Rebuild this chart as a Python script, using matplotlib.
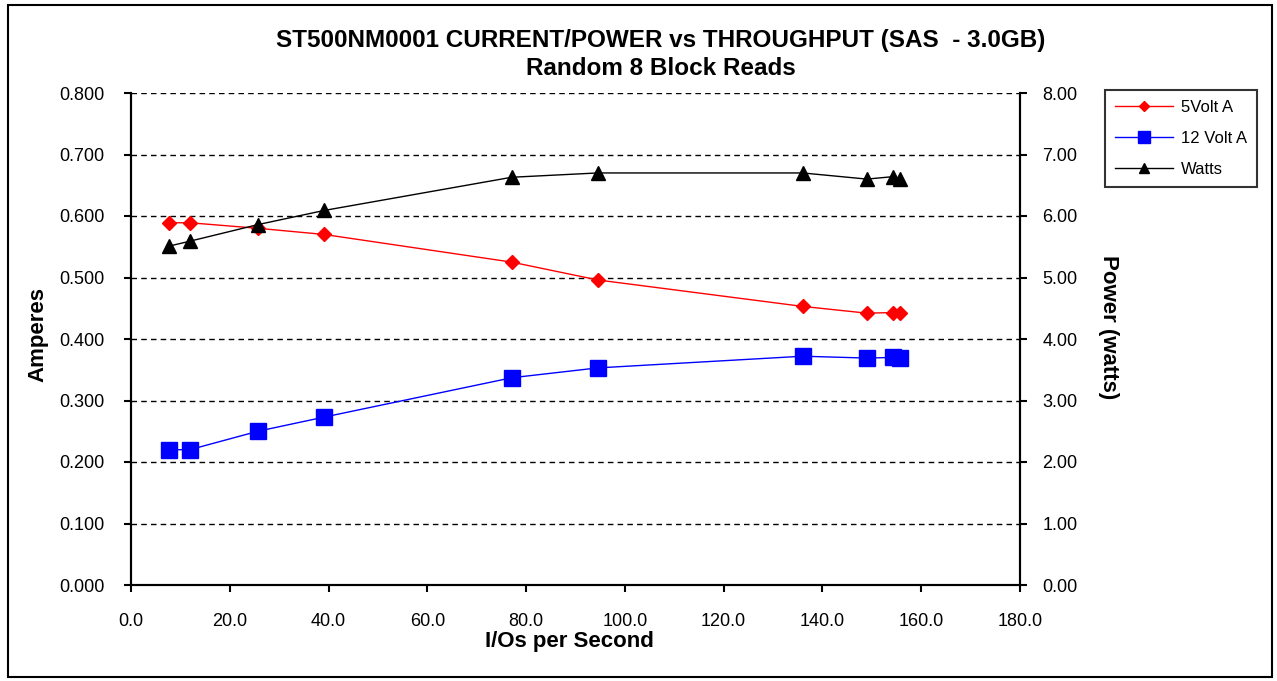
import matplotlib.pyplot as plt
from matplotlib.patches import Rectangle

plt.rcParams['font.family'] = ['Liberation Sans', 'DejaVu Sans']

# I/Os per second
iops = [7.7, 11.9, 25.7, 39.1, 77.1, 94.5, 136.0, 149.0, 154.3, 155.7]
# 5 volt current (A)
amps_5v = [0.589, 0.589, 0.580, 0.570, 0.525, 0.496, 0.453, 0.442, 0.443, 0.442]
# 12 volt current (A)
amps_12v = [0.220, 0.220, 0.250, 0.273, 0.337, 0.353, 0.372, 0.369, 0.370, 0.369]
# power (W)
watts = [5.51, 5.59, 5.86, 6.09, 6.63, 6.70, 6.70, 6.60, 6.64, 6.60]

y_left_ticks = [0.0, 0.1, 0.2, 0.3, 0.4, 0.5, 0.6, 0.7, 0.8]
y_right_ticks = [0, 1, 2, 3, 4, 5, 6, 7, 8]
x_ticks = [0, 20, 40, 60, 80, 100, 120, 140, 160, 180]

fig = plt.figure(figsize=(12.77, 6.81), dpi=100)
fig.patch.set_facecolor('white')

# outer chart frame
fig.patches.append(Rectangle((8 / 1277, 4 / 681), 1264 / 1277, 672 / 681,
                             transform=fig.transFigure, fill=False,
                             edgecolor='black', linewidth=1.5))

ax = fig.add_axes([131 / 1277, 96 / 681, 889 / 1277, 492 / 681])
ax2 = ax.twinx()

l1, = ax.plot(iops, amps_5v, color='red', lw=1, marker='D', ms=7, label='5Volt A')
l2, = ax.plot(iops, amps_12v, color='blue', lw=1, marker='s', ms=11, label='12 Volt A')
l3, = ax2.plot(iops, watts, color='black', lw=1, marker='^', ms=10, label='Watts')

ax.set_xlim(0, 180)
ax.set_ylim(0, 0.8)
ax2.set_ylim(0, 8)
ax.set_xticks(x_ticks)
ax.set_xticklabels([f'{v:.1f}' for v in x_ticks])
ax.set_yticks(y_left_ticks)
ax.set_yticklabels([f'{v:.3f}' for v in y_left_ticks])
ax2.set_yticks(y_right_ticks)
ax2.set_yticklabels([f'{v:.2f}' for v in y_right_ticks])

ax.grid(axis='y', color='black', linestyle=(0, (4, 3)), linewidth=1)
ax.set_axisbelow(True)

for a in (ax, ax2):
    a.spines['top'].set_visible(False)
    for s in ('left', 'right', 'bottom'):
        a.spines[s].set_linewidth(1.5)
    a.tick_params(labelsize=13, length=5, width=1.5, direction='out')

ax.tick_params(axis='y', pad=14)
ax.tick_params(axis='x', pad=15)
ax2.tick_params(axis='y', pad=11)

fig.text(661 / 1277, 1 - 47 / 681, 'ST500NM0001 CURRENT/POWER vs THROUGHPUT (SAS  - 3.0GB)',
         ha='center', va='baseline', fontsize=17.5, fontweight='bold')
fig.text(661 / 1277, 1 - 75 / 681, 'Random 8 Block Reads',
         ha='center', va='baseline', fontsize=17.5, fontweight='bold')
fig.text(569 / 1277, 1 - 647 / 681, 'I/Os per Second',
         ha='center', va='baseline', fontsize=16, fontweight='bold')
fig.text(38 / 1277, 1 - 334 / 681, 'Amperes', rotation=90,
         ha='center', va='center', fontsize=16, fontweight='bold')
fig.text(1108 / 1277, 1 - 327 / 681, 'Power (watts)', rotation=-90,
         ha='center', va='center', fontsize=16, fontweight='bold')

leg = fig.legend([l1, l2, l3], ['5Volt A', '12 Volt A', 'Watts'],
                 loc='upper left', bbox_to_anchor=(1105 / 1277, 1 - 90 / 681),
                 borderaxespad=0, fontsize=12, frameon=True, fancybox=False,
                 borderpad=0.6, labelspacing=0.95, handlelength=3.5,
                 handletextpad=0.45, markerscale=0.75)
leg.get_frame().set_edgecolor('black')
leg.get_frame().set_linewidth(1.5)

fig.savefig('out.png', dpi=100)
